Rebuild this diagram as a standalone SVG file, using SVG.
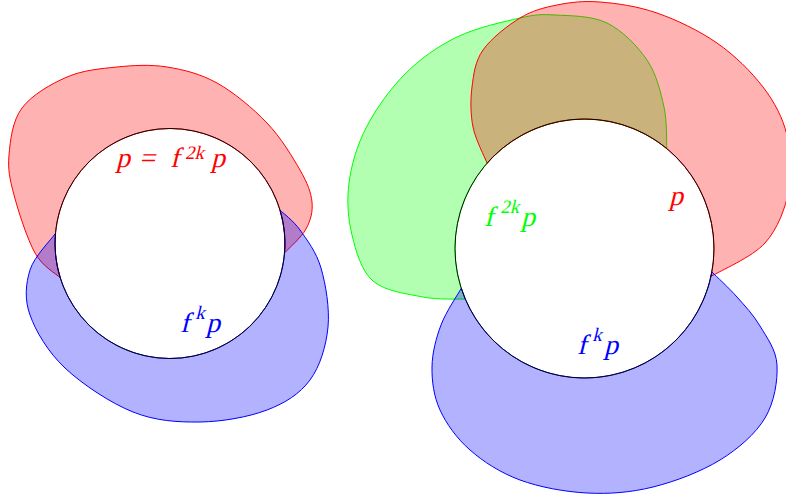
<svg xmlns="http://www.w3.org/2000/svg" width="786" height="501" viewBox="0 0 786 501">
<style>
.red{fill:#ff0000;fill-opacity:0.3;stroke:#ff0000;stroke-width:1}
.blue{fill:#0000ff;fill-opacity:0.3;stroke:#0000ff;stroke-width:1}
.green{fill:#00ff00;fill-opacity:0.3;stroke:#00ff00;stroke-width:1}
.circ{fill:none;stroke:#000;stroke-width:0.9}
text{font-family:"Liberation Serif","Times New Roman",serif;font-style:normal;font-size:28px}
.sup{font-size:19px}
</style>
<rect width="786" height="501" fill="#fff"/>
<g id="left">
<path id="left-red" class="red" d="M60.2,277.7 C56,273.6 42.7,266.8 35,253 C27.3,239.2 18.3,211.3 14,195 C9.7,178.7 7.7,169.5 9,155 C10.3,140.5 12.3,121 22,108 C31.7,95 51.2,83.8 67,77 C82.8,70.2 100.3,68.7 117,67 C133.7,65.3 150.3,64.3 167,67 C183.7,69.7 200.3,73.7 217,83 C233.7,92.3 253.2,108.5 267,123 C280.8,137.5 292.5,156.8 300,170 C307.5,183.2 311,192.2 312,202 C313,211.8 310.6,220.5 306,229 C301.4,237.5 288.2,248.9 284.6,252.9 A115,115 0 1 0 60.2,277.7 Z"/>
<path id="left-blue" class="blue" d="M55.4,233.5 C51.2,239.6 34.2,256.4 30,270 C25.8,283.6 24.2,298.7 30,315 C35.8,331.3 47.8,351.8 65,368 C82.2,384.2 110.5,403 133,412 C155.5,421 177.7,422.3 200,422 C222.3,421.7 248.7,417 267,410 C285.3,403 299.8,393.8 310,380 C320.2,366.2 326.2,345.7 328,327 C329.8,308.3 325.7,284.2 321,268 C316.3,251.8 306.8,239.7 300,230 C293.2,220.4 283.3,213.4 280,210.1 A115,115 0 1 1 55.4,233.5 Z"/>
<circle id="left-circle" class="circ" cx="170" cy="243.5" r="115"/>
<text id="left-red-label" fill="#ff0000" transform="translate(0,167) skewX(-14)"><tspan x="116" y="0">p</tspan><tspan x="139" y="0">=</tspan><tspan x="170" y="0">f</tspan><tspan class="sup" x="183" y="-8">2k</tspan><tspan x="211" y="0">p</tspan></text>
<text id="left-blue-label" fill="#0000ff" transform="translate(0,332) skewX(-14)"><tspan x="180" y="0">f</tspan><tspan class="sup" x="192" y="-13">k</tspan><tspan x="206" y="0">p</tspan></text>
</g>
<g id="right">
<path id="right-green" class="green" d="M465.3,299.1 C458.3,298.8 438.4,300 423,297 C407.6,294 384.8,291.3 373,281 C361.2,270.7 356,251.3 352,235 C348,218.7 346.7,200.8 349,183 C351.3,165.2 356.7,146.2 366,128 C375.3,109.8 389.8,89.2 405,74 C420.2,58.8 437.8,46.3 457,37 C476.2,27.7 503.7,21.7 520,18 C536.3,14.3 540.5,14.2 555,15 C569.5,15.8 591.7,15.5 607,23 C622.3,30.5 637.5,46 647,60 C656.5,74 660.7,92.3 664,107 C667.3,121.8 666.3,141.6 666.8,148.5 A129.5,129.5 0 0 0 465.3,299.1 Z"/>
<path id="right-red" class="red" d="M487.1,163.2 C484.8,157.2 475.5,139.7 473,127 C470.5,114.3 470.3,99.8 472,87 C473.7,74.2 475,61.5 483,50 C491,38.5 507.7,25.5 520,18 C532.3,10.5 543.7,7.7 557,5 C570.3,2.3 583.3,0.7 600,2 C616.7,3.3 637.5,6.2 657,13 C676.5,19.8 699.3,30.7 717,43 C734.7,55.3 751.3,71.7 763,87 C774.7,102.3 782.7,117.8 787,135 C791.3,152.2 792.7,172 789,190 C785.3,208 778,228.6 765,243 C752,257.4 719.9,270.9 710.9,276.5 A129.5,129.5 0 0 0 487.1,163.2 Z"/>
<path id="right-blue" class="blue" d="M461.3,288.3 C457.9,294.4 445.9,311.9 441,325 C436.1,338.1 432.2,352.8 432,367 C431.8,381.2 433.7,396.2 440,410 C446.3,423.8 456.7,438.3 470,450 C483.3,461.7 500.5,472.8 520,480 C539.5,487.2 564.8,491.8 587,493 C609.2,494.2 630.8,492.5 653,487 C675.2,481.5 701.3,471.5 720,460 C738.7,448.5 755.5,433.8 765,418 C774.5,402.2 777.8,380.3 777,365 C776.2,349.7 766.7,337.3 760,326 C753.3,314.7 745,306 737,297 C729,288 716.1,276.1 711.9,271.9 A129.5,129.5 0 0 1 461.3,288.3 Z"/>
<circle id="right-circle" class="circ" cx="584.5" cy="248.5" r="129.5"/>
<text id="right-green-label" fill="#00ff00" transform="translate(0,226) skewX(-14)"><tspan x="484" y="0">f</tspan><tspan class="sup" x="497" y="-13">2k</tspan><tspan x="521" y="0">p</tspan></text>
<text id="right-red-label" fill="#ff0000" transform="translate(0,205) skewX(-14)" x="669" y="0">p</text>
<text id="right-blue-label" fill="#0000ff" transform="translate(0,354) skewX(-14)"><tspan x="577" y="0">f</tspan><tspan class="sup" x="589" y="-13">k</tspan><tspan x="604" y="0">p</tspan></text>
</g>
</svg>
